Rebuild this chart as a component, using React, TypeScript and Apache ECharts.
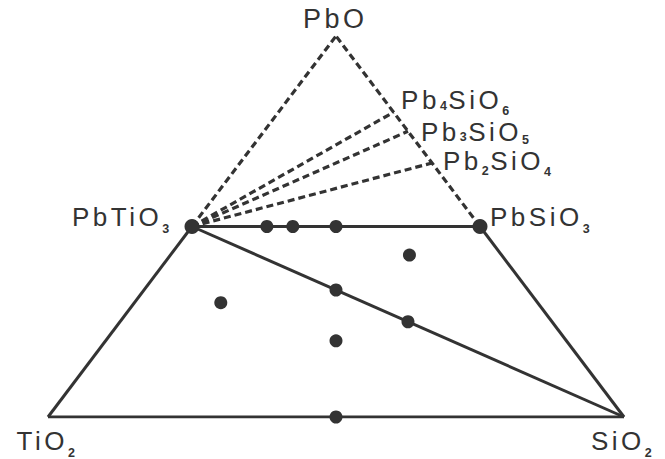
import { useEffect, useRef } from 'react';
import * as echarts from 'echarts';

// Compositions are [PbO, TiO2, SiO2] mole fractions
const cornerNames = ['PbO', 'TiO2', 'SiO2'];
const cornerComps = [
  [1, 0, 0],
  [0, 1, 0],
  [0, 0, 1],
];
const compoundNames = ['PbTiO3', 'PbSiO3', 'Pb4SiO6', 'Pb3SiO5', 'Pb2SiO4'];
const compoundComps = [
  [0.5, 0.5, 0],
  [0.5, 0, 0.5],
  [0.8, 0, 0.2],
  [0.75, 0, 0.25],
  [2 / 3, 0, 1 / 3],
];
const markedCompounds = ['PbTiO3', 'PbSiO3'];
const samplePoints = [
  [0.5, 0.37, 0.13],
  [0.5, 0.325, 0.175],
  [0.5, 0.25, 0.25],
  [0.425, 0.16, 0.415],
  [1 / 3, 1 / 3, 1 / 3],
  [0.25, 0.25, 0.5],
  [0.3, 0.55, 0.15],
  [0.2, 0.4, 0.4],
  [0, 0.5, 0.5],
];
const solidLines = [
  ['TiO2', 'SiO2'],
  ['TiO2', 'PbTiO3'],
  ['PbSiO3', 'SiO2'],
  ['PbTiO3', 'PbSiO3'],
  ['PbTiO3', 'SiO2'],
];
const dashedLines = [
  ['PbTiO3', 'PbO'],
  ['PbSiO3', 'PbO'],
  ['PbTiO3', 'Pb4SiO6'],
  ['PbTiO3', 'Pb3SiO5'],
  ['PbTiO3', 'Pb2SiO4'],
];

// label layout: anchor vertex, offset of text start / baseline, parts [text, isSub, baseline drop]
type Part = [string, boolean, number];
const labelLayout: { at: string; dx: number; dy: number; size: number; parts: Part[] }[] = [
  { at: 'PbO', dx: -33, dy: -8, size: 27, parts: [['PbO', false, 0]] },
  { at: 'PbTiO3', dx: -120, dy: 0, size: 26, parts: [['PbTiO', false, 0], ['3', true, 7]] },
  { at: 'PbSiO3', dx: 10, dy: 0, size: 26, parts: [['PbSiO', false, 0], ['3', true, 7]] },
  { at: 'TiO2', dx: -31.5, dy: 33, size: 26, parts: [['TiO', false, 0], ['2', true, 7]] },
  { at: 'SiO2', dx: -33, dy: 33, size: 26, parts: [['SiO', false, 0], ['2', true, 7]] },
  { at: 'Pb4SiO6', dx: 7.5, dy: -3, size: 26, parts: [['Pb', false, 0], ['4', true, 1], ['SiO', false, 0], ['6', true, 6]] },
  { at: 'Pb3SiO5', dx: 13, dy: 9.5, size: 26, parts: [['Pb', false, 0], ['3', true, 1], ['SiO', false, 0], ['5', true, 4]] },
  { at: 'Pb2SiO4', dx: 11, dy: 7, size: 26, parts: [['Pb', false, 0], ['2', true, 5], ['SiO', false, 0], ['4', true, 6]] },
];

const FAMILY = '"Liberation Sans", Arial, sans-serif';
const SPACING = 3.5;
const INK = '#333333';
const TEXT = '#333333';

const toXY = (c: number[]) => [c[2] + c[0] / 2, c[0]];

export default function App() {
  const ref = useRef<HTMLDivElement>(null);
  useEffect(() => {
    const el = ref.current!;
    const chart = echarts.init(el, null, { renderer: 'svg' });
    const pos: Record<string, number[]> = {};
    cornerNames.forEach((n, i) => (pos[n] = toXY(cornerComps[i])));
    compoundNames.forEach((n, i) => (pos[n] = toXY(compoundComps[i])));

    const seg = (p: string[], dashed: boolean) => ({
      type: 'line',
      data: [pos[p[0]], pos[p[1]]],
      symbol: 'none',
      silent: true,
      z: 2,
      lineStyle: { color: INK, width: dashed ? 3.2 : 3, type: dashed ? [7, 4] : 'solid', cap: 'butt' },
    });

    chart.setOption({
      animation: false,
      grid: { left: 48, right: 41, top: 36, bottom: 42 },
      xAxis: { type: 'value', min: 0, max: 1, show: false },
      yAxis: { type: 'value', min: 0, max: 1, show: false },
      series: [
        ...solidLines.map((p) => seg(p, false)),
        ...dashedLines.map((p) => seg(p, true)),
        {
          type: 'scatter',
          data: markedCompounds.map((n) => pos[n]),
          symbolSize: 15,
          itemStyle: { color: INK, opacity: 1 },
          silent: true,
          z: 3,
        },
        {
          type: 'scatter',
          data: samplePoints.map(toXY),
          symbolSize: 13,
          itemStyle: { color: INK, opacity: 1 },
          silent: true,
          z: 3,
        },
      ],
    });

    const ctx = document.createElement('canvas').getContext('2d')!;
    const graphics: any[] = [];
    labelLayout.forEach((l) => {
      const [px, py] = chart.convertToPixel({ gridIndex: 0 }, pos[l.at]) as number[];
      let x = px + l.dx;
      const base = py + l.dy;
      l.parts.forEach(([t, sub, drop]) => {
        const size = sub ? 12.5 : l.size;
        const weight = sub ? 'bold' : 'normal';
        const font = `${weight} ${size}px ${FAMILY}`;
        ctx.font = font;
        const w = ctx.measureText(t).width + (sub ? 1.5 : SPACING * t.length);
        graphics.push({
          type: 'text',
          x,
          y: base + drop - 0.3467 * size,
          silent: true,
          style: {
            text: t,
            font,
            fill: TEXT,
            align: 'left',
            verticalAlign: 'middle',
            textAlign: 'left',
            textVerticalAlign: 'middle',
          },
        });
        x += w;
      });
    });
    chart.setOption({ graphic: graphics });

    const applySpacing = () => {
      el.querySelectorAll('text').forEach((t) => {
        if (!/^\d+$/.test((t.textContent || '').trim())) t.setAttribute('letter-spacing', String(SPACING));
      });
    };
    applySpacing();
    chart.on('finished', applySpacing);

    return () => chart.dispose();
  }, []);
  return <div ref={ref} style={{ position: 'absolute', left: 0, top: 0, width: 665, height: 459 }} />;
}
